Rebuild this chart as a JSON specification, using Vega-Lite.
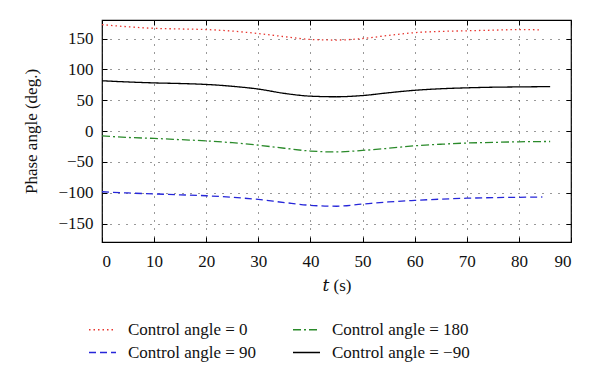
{
  "$schema": "https://vega.github.io/schema/vega-lite/v6.json",
  "width": 469,
  "height": 222,
  "autosize": {"type": "none"},
  "padding": {"left": 102, "top": 20, "right": 29, "bottom": 143},
  "config": {
    "font": "Liberation Serif, DejaVu Serif, serif",
    "view": {"stroke": "#000", "strokeWidth": 1.2},
    "axis": {
      "domain": false,
      "tickColor": "#000",
      "tickSize": -5,
      "labelPadding": 14,
      "labelFontSize": 17,
      "labelColor": "#111",
      "labelFont": "Liberation Serif, DejaVu Serif, serif",
      "titleFont": "Liberation Serif, DejaVu Serif, serif",
      "titleFontSize": 17,
      "titleFontWeight": "normal",
      "titleColor": "#111",
      "grid": true,
      "gridColor": "#333",
      "gridDash": [1, 7],
      "gridOpacity": 1,
      "gridWidth": 1
    }
  },
  "data": {"values": [
    {"t": 0, "v": 172.5, "s": "Control angle = 0"},
    {"t": 5, "v": 169, "s": "Control angle = 0"},
    {"t": 10, "v": 166.5, "s": "Control angle = 0"},
    {"t": 15, "v": 165.5, "s": "Control angle = 0"},
    {"t": 20, "v": 164.5, "s": "Control angle = 0"},
    {"t": 25, "v": 162, "s": "Control angle = 0"},
    {"t": 30, "v": 158, "s": "Control angle = 0"},
    {"t": 35, "v": 153, "s": "Control angle = 0"},
    {"t": 40, "v": 148.5, "s": "Control angle = 0"},
    {"t": 45, "v": 147.5, "s": "Control angle = 0"},
    {"t": 50, "v": 150, "s": "Control angle = 0"},
    {"t": 55, "v": 155, "s": "Control angle = 0"},
    {"t": 60, "v": 159.5, "s": "Control angle = 0"},
    {"t": 65, "v": 161.5, "s": "Control angle = 0"},
    {"t": 70, "v": 162.5, "s": "Control angle = 0"},
    {"t": 75, "v": 163.5, "s": "Control angle = 0"},
    {"t": 80, "v": 164.5, "s": "Control angle = 0"},
    {"t": 84, "v": 164, "s": "Control angle = 0"},

    {"t": 0, "v": -98.5, "s": "Control angle = 90"},
    {"t": 5, "v": -100.5, "s": "Control angle = 90"},
    {"t": 10, "v": -102, "s": "Control angle = 90"},
    {"t": 15, "v": -103.5, "s": "Control angle = 90"},
    {"t": 20, "v": -105, "s": "Control angle = 90"},
    {"t": 25, "v": -107.5, "s": "Control angle = 90"},
    {"t": 30, "v": -111, "s": "Control angle = 90"},
    {"t": 35, "v": -116, "s": "Control angle = 90"},
    {"t": 40, "v": -120.5, "s": "Control angle = 90"},
    {"t": 45, "v": -122, "s": "Control angle = 90"},
    {"t": 50, "v": -118.5, "s": "Control angle = 90"},
    {"t": 55, "v": -115, "s": "Control angle = 90"},
    {"t": 60, "v": -112.5, "s": "Control angle = 90"},
    {"t": 65, "v": -110.5, "s": "Control angle = 90"},
    {"t": 70, "v": -109, "s": "Control angle = 90"},
    {"t": 75, "v": -108, "s": "Control angle = 90"},
    {"t": 80, "v": -107.5, "s": "Control angle = 90"},
    {"t": 84.5, "v": -107, "s": "Control angle = 90"},

    {"t": 0, "v": -8, "s": "Control angle = 180"},
    {"t": 5, "v": -10.5, "s": "Control angle = 180"},
    {"t": 10, "v": -12, "s": "Control angle = 180"},
    {"t": 15, "v": -14, "s": "Control angle = 180"},
    {"t": 20, "v": -16, "s": "Control angle = 180"},
    {"t": 25, "v": -19, "s": "Control angle = 180"},
    {"t": 30, "v": -23, "s": "Control angle = 180"},
    {"t": 35, "v": -28, "s": "Control angle = 180"},
    {"t": 40, "v": -32.5, "s": "Control angle = 180"},
    {"t": 45, "v": -34, "s": "Control angle = 180"},
    {"t": 50, "v": -31.5, "s": "Control angle = 180"},
    {"t": 55, "v": -28, "s": "Control angle = 180"},
    {"t": 60, "v": -24, "s": "Control angle = 180"},
    {"t": 65, "v": -21.5, "s": "Control angle = 180"},
    {"t": 70, "v": -19.5, "s": "Control angle = 180"},
    {"t": 75, "v": -18.5, "s": "Control angle = 180"},
    {"t": 80, "v": -17.5, "s": "Control angle = 180"},
    {"t": 86, "v": -17, "s": "Control angle = 180"},

    {"t": 0, "v": 81.5, "s": "Control angle = −90"},
    {"t": 5, "v": 79.5, "s": "Control angle = −90"},
    {"t": 10, "v": 78, "s": "Control angle = −90"},
    {"t": 15, "v": 77, "s": "Control angle = −90"},
    {"t": 20, "v": 75.5, "s": "Control angle = −90"},
    {"t": 25, "v": 72.5, "s": "Control angle = −90"},
    {"t": 30, "v": 68, "s": "Control angle = −90"},
    {"t": 35, "v": 61, "s": "Control angle = −90"},
    {"t": 40, "v": 56.5, "s": "Control angle = −90"},
    {"t": 45, "v": 55.5, "s": "Control angle = −90"},
    {"t": 50, "v": 57.5, "s": "Control angle = −90"},
    {"t": 55, "v": 62, "s": "Control angle = −90"},
    {"t": 60, "v": 66, "s": "Control angle = −90"},
    {"t": 65, "v": 68.5, "s": "Control angle = −90"},
    {"t": 70, "v": 70, "s": "Control angle = −90"},
    {"t": 75, "v": 71, "s": "Control angle = −90"},
    {"t": 80, "v": 71.5, "s": "Control angle = −90"},
    {"t": 86, "v": 72, "s": "Control angle = −90"}
  ]},
  "layer": [
    {
      "mark": {"type": "line", "interpolate": "monotone", "strokeWidth": 1.3},
      "encoding": {
        "x": {"field": "t", "type": "quantitative", "scale": {"domain": [0, 90], "nice": false, "zero": false},
              "axis": {"title": "𝑡 (s)", "values": [0,10,20,30,40,50,60,70,80,90], "labelPadding": 16, "titlePadding": 8}},
        "y": {"field": "v", "type": "quantitative", "scale": {"domain": [-180, 180], "nice": false},
              "axis": {"title": "Phase angle (deg.)", "values": [-150,-100,-50,0,50,100,150], "titlePadding": 17}},
        "color": {"field": "s", "type": "nominal",
          "scale": {"domain": ["Control angle = 0", "Control angle = 90", "Control angle = 180", "Control angle = −90"],
                    "range": ["#e8352e", "#2626d9", "#2a8a2a", "#000000"]},
          "legend": {"title": null, "orient": "none", "legendX": -14, "legendY": 295, "columns": 2,
                     "columnPadding": 33, "rowPadding": 0, "symbolType": "stroke", "symbolSize": 729,
                     "symbolStrokeWidth": 1.3, "labelFontSize": 17, "labelFont": "Liberation Serif, DejaVu Serif, serif",
                     "labelColor": "#111", "labelOffset": 11, "labelLimit": 300}},
        "strokeDash": {"field": "s", "type": "nominal",
          "scale": {"domain": ["Control angle = 0", "Control angle = 90", "Control angle = 180", "Control angle = −90"],
                    "range": [[1.5, 3], [7, 4], [8, 3, 2, 3], [1, 0]]},
          "legend": null}
      }
    },
    {
      "mark": {"type": "line", "strokeOpacity": 0},
      "encoding": {
        "x": {"field": "t", "type": "quantitative",
              "axis": {"orient": "top", "labels": false, "title": null, "grid": false, "values": [0,10,20,30,40,50,60,70,80,90]}},
        "y": {"field": "v", "type": "quantitative",
              "axis": {"orient": "right", "labels": false, "title": null, "grid": false, "values": [-150,-100,-50,0,50,100,150]}},
        "detail": {"field": "s", "type": "nominal"}
      }
    }
  ],
  "resolve": {"axis": {"x": "independent", "y": "independent"}}
}
